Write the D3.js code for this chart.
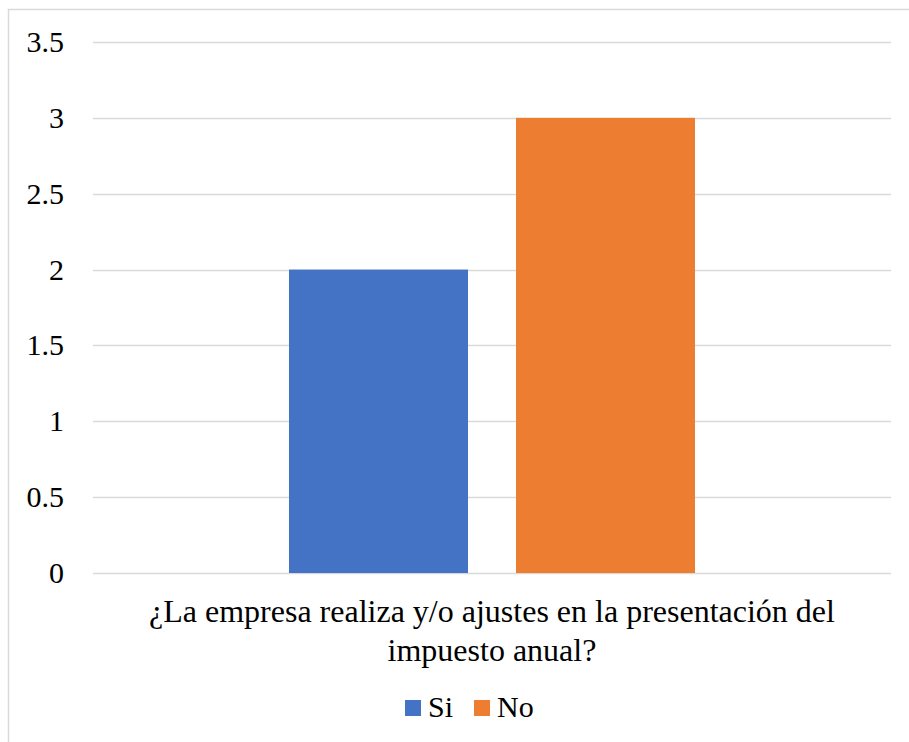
<!DOCTYPE html>
<html><head><meta charset="utf-8">
<script src="https://cdn.jsdelivr.net/npm/d3@7/dist/d3.min.js"></script>
<style>body{margin:0;background:#fff}svg{display:block}
svg text, svg tspan{font-family:"Liberation Serif","Times New Roman",serif !important;}</style>
</head><body><svg id="c" width="909" height="742"></svg>
<script>
const categories = ["¿La empresa realiza y/o ajustes en la presentación del impuesto anual?"];
const seriesNames = ["Si", "No"];
const seriesValues = [2, 3];
const colors = ["#4472C4", "#ED7D31"];
const yTicks = [0, 0.5, 1, 1.5, 2, 2.5, 3, 3.5];

const svg = d3.select("#c");
const FONT = "Liberation Serif";
const fs = 30;
svg.append("rect").attr("x",8.5).attr("y",9.5).attr("width",920).attr("height",760)
  .attr("fill","#fff").attr("stroke","#d9d9d9").attr("stroke-width",1.5);

const m = {l:93, r:891, t:42, b:573};
const y = d3.scaleLinear().domain([0,3.5]).range([m.b, m.t]);
const x0 = d3.scaleBand().domain(categories).range([m.l, m.r]).paddingInner(0).paddingOuter(0);

const g = svg.append("g").attr("font-family",FONT);
g.selectAll(".grid").data(yTicks).join("line")
  .attr("x1",m.l).attr("x2",m.r).attr("y1",d=>Math.round(y(d))+0.5).attr("y2",d=>Math.round(y(d))+0.5)
  .attr("stroke","#d9d9d9").attr("stroke-width",1.5);

g.selectAll(".yl").data(yTicks).join("text")
  .attr("x",64).attr("y",d=>y(d)+10).attr("text-anchor","end")
  .attr("font-family",FONT).attr("font-size",fs).attr("fill","#000").text(d=>d);

const bw = 179, gap = 48;
const cx = x0(categories[0]) + x0.bandwidth()/2;
const xb = d3.scaleBand().domain(seriesNames).range([cx - bw - gap/2, cx + bw + gap/2]).paddingInner(gap/(bw+gap));
g.selectAll(".bar").data(seriesValues).join("rect")
  .attr("x",(d,i)=>xb(seriesNames[i])).attr("width",xb.bandwidth())
  .attr("y",d=>y(d)).attr("height",d=>y(0)-y(d)).attr("fill",(d,i)=>colors[i]);

const t = g.append("text").attr("text-anchor","middle").attr("font-family",FONT)
  .attr("font-size",32).attr("fill","#000");
t.append("tspan").attr("x",cx).attr("y",622).text("¿La empresa realiza y/o ajustes en la presentación del");
t.append("tspan").attr("x",cx).attr("y",661).text("impuesto anual?");

const leg = g.append("g");
const lx = [405, 474];
seriesNames.forEach((n,i)=>{
  leg.append("rect").attr("x",lx[i]).attr("y",700).attr("width",16).attr("height",16).attr("fill",colors[i]);
  leg.append("text").attr("x",lx[i]+23).attr("y",717).attr("font-family",FONT)
    .attr("font-size",fs).attr("fill","#000").text(n);
});
</script></body></html>
